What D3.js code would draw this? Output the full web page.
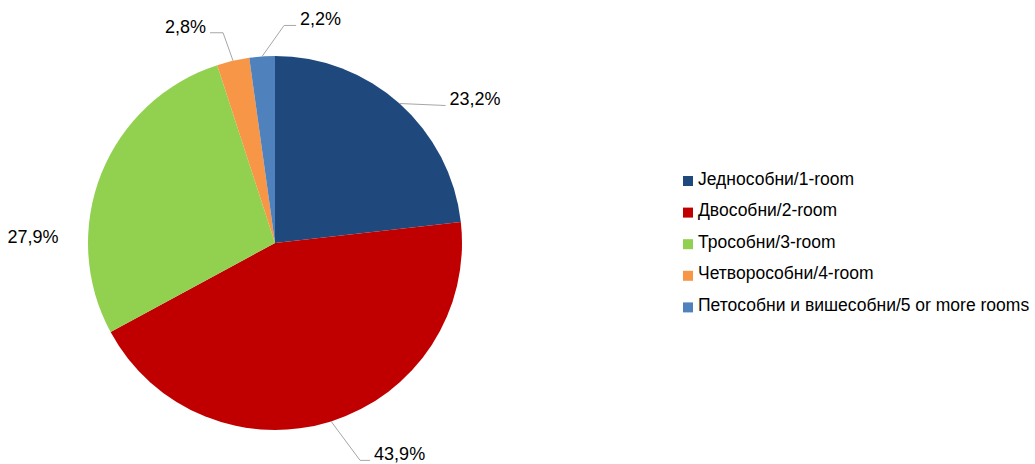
<!DOCTYPE html>
<html lang="sr">
<head>
  <meta charset="UTF-8">
  <title>Станови по структури</title>
  <style>
    body {
      margin: 0;
      padding: 0;
      background: #fff;
    }
    svg text {
      font-family: "Liberation Sans Narrow", "Arial Narrow", "Liberation Sans", Arial, sans-serif;
      fill: #000;
    }
    .leader {
      fill: none;
      stroke: #a6a6a6;
      stroke-width: 1;
    }
  </style>
</head>
<body>
  <div id="chart"></div>

  <script src="https://d3js.org/d3.v7.min.js"></script>
  <script>
    // Подаци
    const categories = [
      "Једнособни/1-room",
      "Двособни/2-room",
      "Трособни/3-room",
      "Четворособни/4-room",
      "Петособни и вишесобни/5 or more rooms"
    ];
    const values = [23.2, 43.9, 27.9, 2.8, 2.2];
    const colors = ["#1F497D", "#C00000", "#92D050", "#F79646", "#4F81BD"];

    const width = 1035;
    const height = 464;
    const cx = 275;
    const cy = 243;
    const radius = 187;

    const fmt = v => v.toFixed(1).replace(".", ",") + "%";

    const svg = d3.select("#chart")
      .append("svg")
      .attr("width", width)
      .attr("height", height);

    const g = svg.append("g")
      .attr("transform", `translate(${cx}, ${cy})`);

    const pie = d3.pie()
      .value(d => d)
      .sort(null);

    const arc = d3.arc()
      .innerRadius(0)
      .outerRadius(radius);

    const arcs = pie(values);

    g.selectAll("path")
      .data(arcs)
      .enter()
      .append("path")
      .attr("d", arc)
      .attr("fill", (d, i) => colors[i]);

    // Позиције ознака (елбоу тачке у односу на ивицу круга)
    const labelSpec = [
      { dx: 46, dy: 2, hx: 0, anchor: "start" },
      { dx: 29, dy: 39, hx: 10, anchor: "start" },
      { none: true },
      { dx: -10, dy: -28, hx: -13, anchor: "end" },
      { dx: 22, dy: -31, hx: 12, anchor: "start" }
    ];

    const edge = d => {
      const a = (d.startAngle + d.endAngle) / 2;
      return [radius * Math.sin(a), -radius * Math.cos(a)];
    };

    arcs.forEach((d, i) => {
      const s = labelSpec[i];
      const p = edge(d);
      if (s.none) {
        g.append("text")
          .attr("x", -radius - 55)
          .attr("y", -5)
          .attr("text-anchor", "middle")
          .attr("dominant-baseline", "middle")
          .attr("font-size", 18)
          .text(fmt(values[i]));
        return;
      }
      const e = [p[0] + s.dx, p[1] + s.dy];
      const h = [e[0] + s.hx, e[1]];
      g.append("polyline")
        .attr("class", "leader")
        .attr("points", [p, e, h].map(q => q.join(",")).join(" "));
      g.append("text")
        .attr("x", h[0] + (s.anchor === "start" ? 4 : -4))
        .attr("y", h[1] - 5)
        .attr("text-anchor", s.anchor)
        .attr("dominant-baseline", "middle")
        .attr("font-size", 18)
        .text(fmt(values[i]));
    });

    // Легенда
    const legend = svg.append("g")
      .attr("transform", "translate(683, 181)");

    const rowH = 31.6;
    const items = legend.selectAll("g")
      .data(categories)
      .enter()
      .append("g")
      .attr("transform", (d, i) => `translate(0, ${i * rowH})`);

    items.append("rect")
      .attr("x", 0)
      .attr("y", -5)
      .attr("width", 10)
      .attr("height", 10)
      .attr("fill", (d, i) => colors[i]);

    items.append("text")
      .attr("x", 15)
      .attr("y", -1)
      .attr("dominant-baseline", "middle")
      .attr("font-size", 17.5)
      .text(d => d);
  </script>
</body>
</html>
